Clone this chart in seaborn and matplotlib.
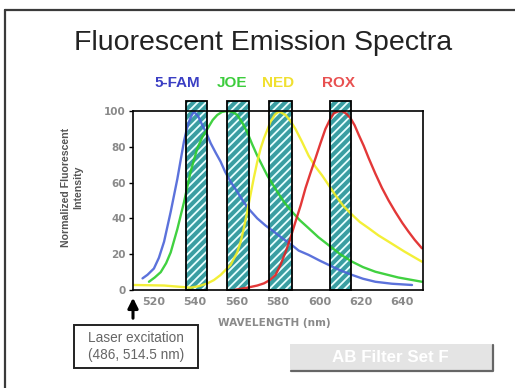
import matplotlib
matplotlib.use("Agg")
import matplotlib.pyplot as plt
from matplotlib.patches import Rectangle
from matplotlib.lines import Line2D
import pandas as pd
import seaborn as sns

# Emission curves (wavelength in nm, normalized intensity in %)
fam_nm = [514.6, 517.0, 520.1, 522.5, 525.0, 528.2, 531.4, 534.6, 536.0, 537.0,
          538.3, 539.4, 541.5, 543.5, 545.5, 547.5, 550.0, 552.3, 554.5, 557.1,
          560.0, 563.5, 566.5, 570.0, 574.0, 578.0, 582.0, 586.8, 590.0, 594.8,
          600.0, 604.5, 610.0, 615.8, 621.0, 627.0, 635.0, 644.7]
fam_int = [6.5, 8.5, 12, 18, 27, 43.7, 62, 83, 90, 94,
           97.5, 99.6, 97, 92, 87.5, 82, 76.5, 71.7, 66, 60.5,
           55.5, 49, 44.5, 40, 36, 32.6, 29, 25, 22, 19.6,
           16.5, 14, 11, 8.4, 6.3, 4.6, 3.5, 2.8]

joe_nm = [517.7, 520.5, 523.4, 526.0, 528.2, 531.4, 534.6, 537.8, 541.0, 543.5,
          545.9, 548.5, 550.7, 553.0, 555.5, 558.0, 560.3, 563.0, 565.2, 567.5,
          570.0, 574.8, 579.6, 583.0, 586.8, 590.5, 594.8, 599.5, 604.5, 610.0,
          615.8, 621.0, 627.0, 638.0, 649.5]
joe_int = [4.6, 7, 10, 15, 21, 34, 49, 66, 79, 85.5,
           90, 95, 97.8, 99.5, 100, 99.5, 97.8, 93, 88, 81.5,
           75, 64, 55, 49, 43.7, 39, 34.5, 29.5, 25, 20,
           15.8, 12.8, 10.2, 7, 4.6]

ned_nm = [510.5, 525.0, 537.8, 542.0, 545.9, 549.0, 552.3, 557.1, 560.3, 562.0,
          563.5, 565.0, 566.7, 568.3, 570.0, 571.6, 573.2, 576.4, 578.5, 580.5,
          583.6, 586.0, 588.4, 591.5, 594.8, 598.0, 601.3, 604.5, 607.7, 611.5,
          615.8, 619.5, 623.8, 628.5, 633.4, 641.0, 649.5]
ned_int = [2.8, 2.5, 1.3, 2.2, 3.7, 5.5, 8.4, 14, 21, 27,
           34.5, 43, 53, 62.5, 71.7, 79, 84.7, 94, 98, 99.8,
           97.8, 94.5, 90, 83, 75, 69, 64, 58.5, 53, 47,
           42, 38, 34.5, 30.5, 27, 21.5, 15.8]

rox_nm = [558.7, 565.2, 570.0, 573.2, 576.0, 578.8, 581.0, 583.6, 586.0, 588.4,
          591.0, 593.3, 595.7, 598.1, 600.5, 602.9, 605.0, 606.9, 609.0, 610.9,
          613.0, 615.0, 617.0, 619.0, 621.4, 623.8, 627.0, 630.2, 633.4, 636.6,
          640.0, 643.0, 646.0, 649.5]
rox_int = [0, 1.3, 2.5, 3.7, 5.5, 8.4, 13.5, 21, 29, 38,
           47.5, 57, 65.5, 73.6, 82, 90, 95, 98.7, 99.8, 100,
           98.5, 96, 92, 86.6, 80.5, 73.6, 65, 57, 50, 43.7,
           37.5, 32.6, 28, 23.3]

dyes = ["5-FAM", "JOE", "NED", "ROX"]
dye_colors = ["#4a63d8", "#2ccc2c", "#f2ee22", "#e02222"]
label_colors = ["#3b3fc4", "#3ccc3c", "#f0e030", "#e85050"]
label_nm = [531.6, 558.0, 580.0, 609.0]

# Filter set F pass bands (nm)
band_lo = [535.5, 555.2, 575.6, 605.0]
band_hi = [545.5, 566.0, 586.8, 615.4]
band_top = 105.6

x_ticks = [520, 540, 560, 580, 600, 620, 640]
y_ticks = [0, 20, 40, 60, 80, 100]

frames = []
for name, nm, val in [("5-FAM", fam_nm, fam_int), ("JOE", joe_nm, joe_int),
                      ("NED", ned_nm, ned_int), ("ROX", rox_nm, rox_int)]:
    frames.append(pd.DataFrame({"wavelength": nm, "intensity": val, "dye": name}))
spectra = pd.concat(frames, ignore_index=True)

sns.set_theme(style="white")
plt.rcParams["font.family"] = ["Liberation Sans", "DejaVu Sans"]
plt.rcParams["hatch.linewidth"] = 1.3

W, H = 515, 388
fig = plt.figure(figsize=(W / 100, H / 100), dpi=100)
fig.patch.set_facecolor("white")


def fx(x):
    return x / W


def fy(y):
    return 1 - y / H


ax = fig.add_axes([fx(133), fy(290), fx(423) - fx(133), fy(111) - fy(290)])

# hatched filter bands
for lo, hi in zip(band_lo, band_hi):
    ax.add_patch(Rectangle((lo, 0), hi - lo, band_top, facecolor="#3a9ea2",
                           edgecolor="#e9ffff", hatch="////", linewidth=0,
                           clip_on=False, zorder=1))
    ax.add_patch(Rectangle((lo, 0), hi - lo, band_top, facecolor="none",
                           edgecolor="black", linewidth=1.3,
                           clip_on=False, zorder=3))

sns.lineplot(data=spectra, x="wavelength", y="intensity", hue="dye",
             hue_order=dyes, palette=dict(zip(dyes, dye_colors)),
             estimator=None, sort=False, linewidth=1.7, alpha=0.9,
             legend=False, ax=ax, zorder=2)

ax.set_xlim(510, 650)
ax.set_ylim(0, 100)
ax.set_xticks(x_ticks)
ax.set_yticks(y_ticks)
ax.set_xlabel("")
ax.set_ylabel("")
ax.tick_params(axis="x", length=0, pad=5, labelsize=8, labelcolor="#8a8a8a")
ax.tick_params(axis="y", length=3, width=1, color="black", direction="out",
               pad=2, labelsize=7.5, labelcolor="#8a8a8a", left=True)
for lab in ax.get_xticklabels() + ax.get_yticklabels():
    lab.set_fontweight("bold")
    lab.set_family("DejaVu Sans")
for sp in ax.spines.values():
    sp.set_color("black")
    sp.set_linewidth(1.2)
    sp.set_visible(True)

# dye names above the bands
for name, col, xn in zip(dyes, label_colors, label_nm):
    ax.text(xn, 115.6, name, color=col, fontsize=11, fontweight="bold",
            ha="center", va="center", clip_on=False)

# title and axis captions
fig.text(fx(263), fy(43), "Fluorescent Emission Spectra", fontsize=20.5,
         color="#222222", ha="center", va="center")
fig.text(fx(72), fy(187), "Normalized Fluorescent\nIntensity", rotation=90,
         fontsize=7.6, fontweight="bold", color="#555555", ha="center",
         va="center", linespacing=1.25)
fig.text(fx(274), fy(323), "WAVELENGTH (nm)", fontsize=7.6, fontweight="bold",
         color="#8a8a8a", ha="center", va="center", family="DejaVu Sans")

# slide frame (top and left edges)
fig.add_artist(Line2D([fx(5), fx(W)], [fy(10), fy(10)], color="#3a3a3a",
                      linewidth=1.6))
fig.add_artist(Line2D([fx(5), fx(5)], [fy(10), fy(H)], color="#3a3a3a",
                      linewidth=1.6))

# laser excitation arrow and box
ax.annotate("", xy=(fx(133), fy(295)), xytext=(fx(133), fy(321)),
            xycoords="figure fraction", textcoords="figure fraction",
            arrowprops=dict(arrowstyle="-|>,head_width=0.25,head_length=0.5",
                            color="black", linewidth=2.2))
fig.add_artist(Rectangle((fx(74), fy(368)), fx(198) - fx(74), fy(325) - fy(368),
                         transform=fig.transFigure, facecolor="white",
                         edgecolor="#222222", linewidth=1.4))
fig.text(fx(136), fy(346.5), "Laser excitation\n(486, 514.5 nm)", fontsize=9.8,
         color="#666666", ha="center", va="center", linespacing=1.2)

# filter set button
fig.add_artist(Rectangle((fx(290), fy(371)), fx(493) - fx(290), fy(344) - fy(371),
                         transform=fig.transFigure, facecolor="#e4e4e4",
                         edgecolor="none"))
fig.add_artist(Line2D([fx(291), fx(493), fx(493)], [fy(371), fy(371), fy(345)],
                      color="#666666", linewidth=1.6))
fig.text(fx(390), fy(357.5), "AB Filter Set F", fontsize=12.2, fontweight="bold",
         color="white", ha="center", va="center")

fig.savefig("out.png", dpi=100, facecolor="white")
